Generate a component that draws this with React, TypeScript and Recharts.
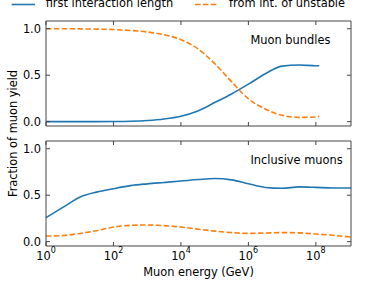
import { LineChart, Line, XAxis, YAxis } from 'recharts';

// energies in GeV, half-decade steps
const energiesTop = [1, 3.16, 10, 31.6, 100, 316, 1e3, 3.16e3, 1e4, 3.16e4, 1e5, 3.16e5, 1e6, 3.16e6, 1e7, 3.16e7, 1e8, 1.26e8];
const firstTop = [0.0, 0.0, 0.0, 0.0, 0.001, 0.004, 0.012, 0.028, 0.058, 0.115, 0.205, 0.298, 0.403, 0.515, 0.597, 0.61, 0.601, 0.601];
const unstableTop = [1.0, 1.0, 0.998, 0.996, 0.991, 0.981, 0.965, 0.935, 0.882, 0.785, 0.625, 0.43, 0.245, 0.135, 0.068, 0.046, 0.05, 0.057];

const energiesBottom = [1, 3.16, 10, 31.6, 100, 316, 1e3, 3.16e3, 1e4, 3.16e4, 1e5, 3.16e5, 1e6, 3.16e6, 1e7, 3.16e7, 1e8, 3.16e8, 1.1e9];
const firstBottom = [0.258, 0.368, 0.478, 0.533, 0.57, 0.603, 0.622, 0.637, 0.652, 0.668, 0.68, 0.665, 0.623, 0.583, 0.574, 0.589, 0.584, 0.577, 0.578];
const unstableBottom = [0.06, 0.066, 0.088, 0.118, 0.157, 0.175, 0.179, 0.172, 0.157, 0.135, 0.113, 0.097, 0.089, 0.093, 0.097, 0.094, 0.082, 0.068, 0.05];

const xTicks = [1, 100, 1e4, 1e6, 1e8];
const yTicks = [0, 0.5, 1.0];

const topData = energiesTop.map((e, i) => ({ e, first: firstTop[i], unstable: unstableTop[i] }));
const bottomData = energiesBottom.map((e, i) => ({ e, first: firstBottom[i], unstable: unstableBottom[i] }));

const W = 374;
const H = 291;
const FONT = 'DejaVu Sans';
const FS = 11.4;
const FRAME = '#444';
const BLUE = '#1f77b4';
const ORANGE = '#ff7f0e';

// axis sizes, subtracted from the margins below
const XB = 20;
const XT = 5;
const YL = 30;
const YR = 5;

const BottomTick = ({ x, y, payload, labels }: any) => {
  const n = Math.round(Math.log10(payload.value));
  return (
    <g>
      <line x1={x} y1={y} x2={x} y2={y - 4} stroke={FRAME} strokeWidth={1} />
      {labels && (
        <text x={x} y={y + 13.5} textAnchor="middle" fontFamily={FONT} fontSize={FS} fill="#000">
          <tspan>10</tspan>
          <tspan dy={-7} fontSize={8}>{n}</tspan>
        </text>
      )}
    </g>
  );
};

const TopTick = ({ x, y }: any) => (
  <line x1={x} y1={y} x2={x} y2={y + 4} stroke={FRAME} strokeWidth={1} />
);

const LeftTick = ({ x, y, payload }: any) => (
  <g>
    <line x1={x} y1={y} x2={x + 4} y2={y} stroke={FRAME} strokeWidth={1} />
    <text x={x - 5} y={y} dy="0.36em" textAnchor="end" fontFamily={FONT} fontSize={FS} fill="#000">
      {payload.value.toFixed(1)}
    </text>
  </g>
);

const RightTick = ({ x, y }: any) => (
  <line x1={x} y1={y} x2={x - 4} y2={y} stroke={FRAME} strokeWidth={1} />
);

const Panel = ({ data, top, bottom, labels }: any) => (
  <LineChart
    width={W}
    height={H}
    data={data}
    margin={{ top: top - XT, right: 23 - YR, bottom: H - bottom - XB, left: 46 - YL }}
    style={{ position: 'absolute', left: 0, top: 0 }}
  >
    <XAxis
      dataKey="e"
      type="number"
      scale="log"
      domain={[1, 1.1e9]}
      ticks={xTicks}
      allowDataOverflow
      height={XB}
      tickSize={0}
      tickMargin={0}
      tickLine={false}
      axisLine={{ stroke: FRAME, strokeWidth: 1 }}
      tick={<BottomTick labels={labels} />}
      interval={0}
    />
    <XAxis
      xAxisId="top"
      orientation="top"
      dataKey="e"
      type="number"
      scale="log"
      domain={[1, 1.1e9]}
      ticks={xTicks}
      allowDataOverflow
      height={XT}
      tickSize={0}
      tickMargin={0}
      tickLine={false}
      axisLine={{ stroke: FRAME, strokeWidth: 1 }}
      tick={<TopTick />}
      interval={0}
    />
    <YAxis
      type="number"
      domain={[-0.047, 1.083]}
      ticks={yTicks}
      allowDataOverflow
      width={YL}
      tickSize={0}
      tickMargin={0}
      tickLine={false}
      axisLine={{ stroke: FRAME, strokeWidth: 1 }}
      tick={<LeftTick />}
      interval={0}
    />
    <YAxis
      yAxisId="right"
      orientation="right"
      type="number"
      domain={[-0.047, 1.083]}
      ticks={yTicks}
      allowDataOverflow
      width={YR}
      tickSize={0}
      tickMargin={0}
      tickLine={false}
      axisLine={{ stroke: FRAME, strokeWidth: 1 }}
      tick={<RightTick />}
      interval={0}
    />
    <Line type="monotone" dataKey="first" stroke={BLUE} strokeWidth={1.6} dot={false} isAnimationActive={false} />
    <Line
      type="monotone"
      dataKey="unstable"
      stroke={ORANGE}
      strokeWidth={1.6}
      strokeDasharray="5.5 2.4"
      dot={false}
      isAnimationActive={false}
    />
  </LineChart>
);

export default function App() {
  return (
    <div style={{ position: 'absolute', left: 0, top: 0, width: W, height: H, background: '#fff', overflow: 'hidden' }}>
      <Panel data={topData} top={21} bottom={126} labels={false} />
      <Panel data={bottomData} top={141} bottom={246} labels={true} />
      <svg width={W} height={H} style={{ position: 'absolute', left: 0, top: 0, pointerEvents: 'none' }}>
        <g fontFamily={FONT} fontSize={FS} fill="#000">
          <line x1={11.7} y1={4.5} x2={35} y2={4.5} stroke={BLUE} strokeWidth={1.6} />
          <text x={45.7} y={7.3}>first interaction length</text>
          <line x1={195} y1={4.5} x2={217} y2={4.5} stroke={ORANGE} strokeWidth={1.6} strokeDasharray="5.5 2.4" />
          <text x={229} y={7.3}>from int. of unstable</text>
          <text x={250.5} y={44.4}>Muon bundles</text>
          <text x={250.5} y={164.4}>Inclusive muons</text>
          <text x={198.5} y={276} textAnchor="middle">Muon energy (GeV)</text>
          <text x={16.7} y={133.5} textAnchor="middle" transform="rotate(-90 16.7 133.5)">
            Fraction of muon yield
          </text>
        </g>
      </svg>
    </div>
  );
}
